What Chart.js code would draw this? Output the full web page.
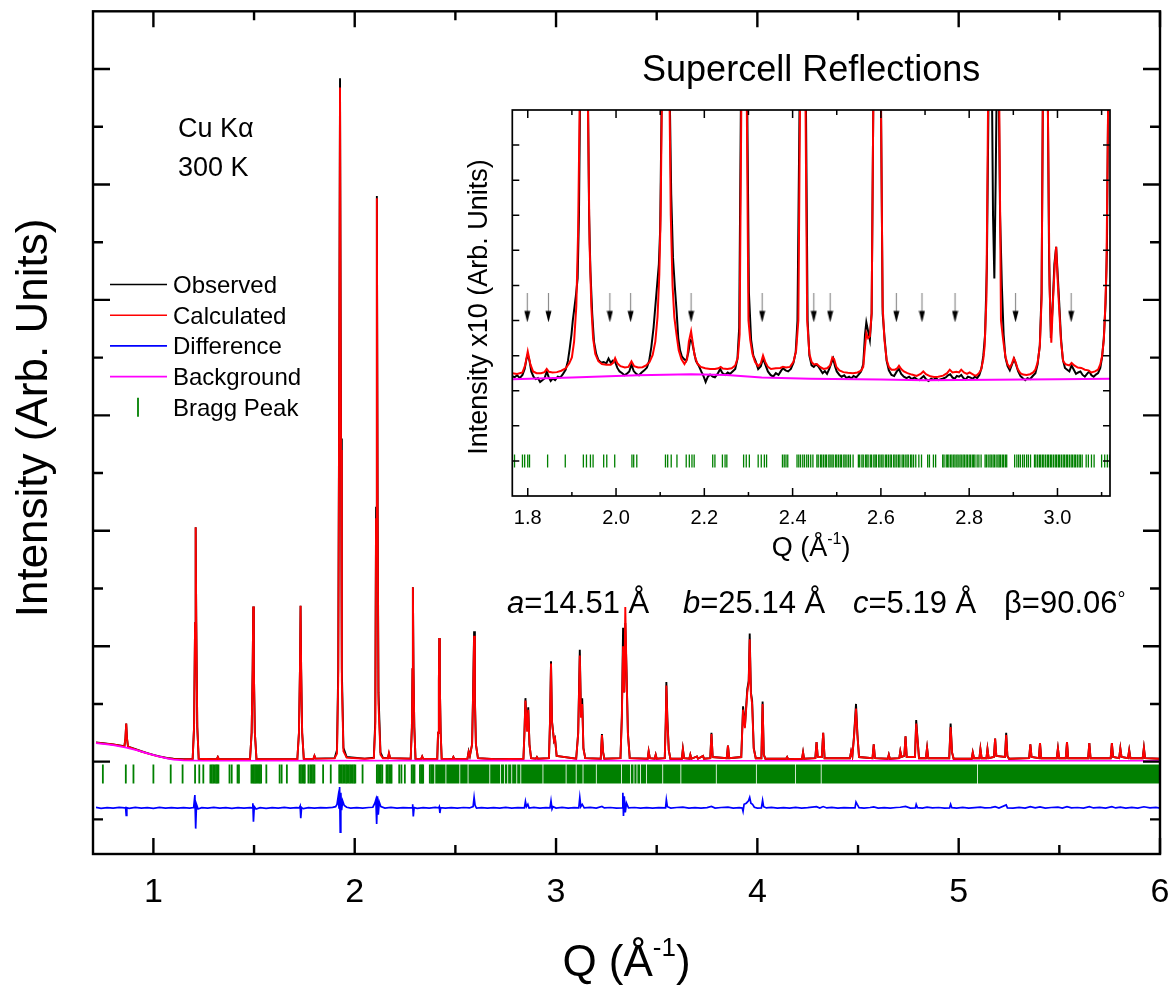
<!DOCTYPE html>
<html>
<head>
<meta charset="utf-8">
<title>Rietveld refinement – supercell</title>
<script src="https://cdn.jsdelivr.net/npm/chart.js@4.4.1/dist/chart.umd.min.js"></script>
<style>
  html, body { margin: 0; padding: 0; background: #fff; }
  #wrap { position: relative; width: 1176px; height: 994px; }
  #mainChart { position: absolute; left: 0; top: 0; }
  #insetChart { position: absolute; left: 440px; top: 30px; }
</style>
</head>
<body>
<div id="wrap">
  <canvas id="mainChart" width="1176" height="994"></canvas>
  <canvas id="insetChart" width="700" height="540"></canvas>
</div>
<script>
const FONT = '"Liberation Sans", Arial, Helvetica, sans-serif';

// ---- full pattern: [Q (1/Å), intensity] ----
const observed = [
  [0.715,0.166],[0.760,0.158],[0.800,0.149],[0.840,0.138],[0.856,0.134],[0.861,0.200],[0.865,0.330],[0.869,0.200],[0.874,0.130],
  [0.900,0.115],[0.940,0.090],[0.970,0.074],[1.000,0.058],[1.030,0.046],[1.067,0.032],[1.100,0.025],[1.150,0.021],
  [1.195,0.024],[1.202,0.300],[1.207,1.200],[1.210,2.030],[1.213,1.200],[1.218,0.300],[1.225,0.025],
  [1.300,0.021],[1.315,0.021],[1.320,0.040],[1.325,0.021],
  [1.480,0.022],[1.488,0.250],[1.493,0.800],[1.496,1.345],[1.499,0.800],[1.504,0.250],[1.512,0.022],
  [1.715,0.022],[1.723,0.250],[1.728,0.800],[1.731,1.350],[1.734,0.800],[1.739,0.250],[1.747,0.024],
  [1.795,0.025],[1.800,0.050],[1.805,0.026],
  [1.900,0.030],[1.912,0.100],[1.918,0.800],[1.922,2.800],[1.927,5.920],[1.932,2.800],[1.936,0.800],[1.944,0.120],[1.960,0.040],
  [2.050,0.026],[2.095,0.035],[2.102,0.350],[2.106,2.200],[2.110,4.900],[2.114,2.200],[2.118,0.600],[2.128,0.080],[2.140,0.035],
  [2.165,0.030],[2.170,0.070],[2.176,0.030],
  [2.278,0.025],[2.284,0.300],[2.287,0.800],[2.289,1.510],[2.292,0.800],[2.296,0.300],[2.302,0.025],
  [2.330,0.024],[2.335,0.045],[2.340,0.024],
  [2.410,0.024],[2.414,0.250],[2.418,0.700],[2.420,1.070],[2.423,0.650],[2.427,0.250],[2.432,0.025],
  [2.485,0.022],[2.490,0.040],[2.495,0.022],
  [2.560,0.025],[2.566,0.090],[2.572,0.050],[2.583,0.150],[2.588,0.600],[2.593,1.130],[2.597,0.550],[2.602,0.150],[2.612,0.030],
  [2.700,0.021],[2.838,0.025],[2.843,0.250],[2.848,0.550],[2.856,0.280],[2.862,0.470],[2.868,0.150],[2.876,0.030],
  [2.900,0.025],[2.905,0.040],[2.910,0.025],
  [2.965,0.030],[2.970,0.350],[2.975,0.870],[2.980,0.350],[2.990,0.180],[2.995,0.200],[3.003,0.050],
  [3.100,0.025],[3.110,0.250],[3.118,0.970],[3.124,0.400],[3.130,0.550],[3.136,0.120],[3.145,0.030],
  [3.222,0.025],[3.228,0.240],[3.234,0.080],[3.240,0.025],
  [3.320,0.030],[3.327,0.400],[3.333,1.160],[3.339,0.600],[3.344,1.200],[3.350,0.800],[3.357,0.250],[3.366,0.030],
  [3.455,0.025],[3.460,0.090],[3.466,0.030],[3.490,0.025],[3.495,0.060],[3.500,0.025],
  [3.540,0.030],[3.545,0.350],[3.548,0.690],[3.553,0.380],[3.560,0.100],[3.568,0.025],
  [3.625,0.025],[3.630,0.110],[3.636,0.030],[3.662,0.025],[3.667,0.060],[3.672,0.025],[3.700,0.045],[3.705,0.025],[3.730,0.050],[3.735,0.025],
  [3.766,0.030],[3.772,0.250],[3.778,0.040],[3.848,0.030],[3.854,0.140],[3.860,0.030],
  [3.920,0.040],[3.929,0.480],[3.938,0.300],[3.950,0.630],[3.957,0.700],[3.962,1.110],[3.968,0.600],[3.974,0.530],[3.982,0.120],[3.992,0.030],
  [4.020,0.030],[4.026,0.520],[4.032,0.060],[4.040,0.025],
  [4.143,0.025],[4.148,0.040],[4.153,0.022],[4.222,0.025],[4.227,0.080],[4.232,0.025],
  [4.288,0.030],[4.294,0.170],[4.300,0.040],[4.320,0.040],[4.327,0.250],[4.334,0.030],
  [4.460,0.030],[4.466,0.090],[4.472,0.050],[4.480,0.220],[4.490,0.500],[4.497,0.240],[4.505,0.040],
  [4.572,0.030],[4.578,0.150],[4.584,0.030],[4.648,0.025],[4.653,0.060],[4.658,0.025],
  [4.705,0.030],[4.710,0.090],[4.716,0.040],[4.730,0.050],[4.736,0.220],[4.742,0.040],
  [4.783,0.040],[4.789,0.360],[4.796,0.190],[4.803,0.030],[4.837,0.030],[4.843,0.120],[4.849,0.030],
  [4.953,0.030],[4.960,0.330],[4.967,0.080],[4.975,0.025],
  [5.065,0.025],[5.070,0.080],[5.076,0.030],[5.103,0.030],[5.108,0.110],[5.114,0.030],[5.138,0.030],[5.143,0.110],[5.149,0.030],
  [5.175,0.040],[5.181,0.200],[5.187,0.050],[5.230,0.040],[5.236,0.250],[5.242,0.050],[5.250,0.025],
  [5.350,0.030],[5.356,0.150],[5.362,0.040],[5.398,0.030],[5.404,0.160],[5.410,0.030],
  [5.487,0.030],[5.493,0.115],[5.499,0.030],[5.532,0.030],[5.538,0.170],[5.544,0.030],
  [5.643,0.030],[5.649,0.160],[5.655,0.030],
  [5.755,0.030],[5.761,0.160],[5.767,0.040],[5.797,0.030],[5.803,0.115],[5.809,0.040],[5.841,0.030],[5.847,0.100],[5.853,0.030],
  [5.914,0.030],[5.920,0.120],[5.926,0.030],[6.000,0.025]
];

const calculated = [
  [0.715,0.164],[0.760,0.156],[0.800,0.148],[0.840,0.137],[0.856,0.134],[0.861,0.200],[0.865,0.330],[0.869,0.200],[0.874,0.130],
  [0.900,0.113],[0.940,0.088],[0.970,0.072],[1.000,0.056],[1.030,0.044],[1.067,0.031],[1.100,0.024],[1.150,0.020],
  [1.195,0.024],[1.202,0.300],[1.207,1.200],[1.210,2.030],[1.213,1.200],[1.218,0.300],[1.225,0.025],
  [1.300,0.021],[1.315,0.021],[1.320,0.040],[1.325,0.021],
  [1.480,0.022],[1.488,0.250],[1.493,0.800],[1.496,1.345],[1.499,0.800],[1.504,0.250],[1.512,0.022],
  [1.715,0.022],[1.723,0.250],[1.728,0.800],[1.731,1.350],[1.734,0.800],[1.739,0.250],[1.747,0.024],
  [1.795,0.025],[1.800,0.050],[1.805,0.026],
  [1.900,0.028],[1.912,0.070],[1.918,0.700],[1.922,2.700],[1.927,5.840],[1.932,2.700],[1.936,0.700],[1.944,0.090],[1.960,0.035],
  [2.050,0.025],[2.095,0.030],[2.102,0.300],[2.106,2.100],[2.110,4.880],[2.114,2.100],[2.118,0.500],[2.128,0.060],[2.140,0.030],
  [2.165,0.030],[2.170,0.075],[2.176,0.030],
  [2.278,0.025],[2.284,0.300],[2.287,0.800],[2.289,1.510],[2.292,0.800],[2.296,0.300],[2.302,0.025],
  [2.330,0.024],[2.335,0.045],[2.340,0.024],
  [2.410,0.024],[2.414,0.250],[2.418,0.700],[2.420,1.070],[2.423,0.650],[2.427,0.250],[2.432,0.025],
  [2.485,0.022],[2.490,0.040],[2.495,0.022],
  [2.560,0.025],[2.566,0.085],[2.572,0.050],[2.583,0.150],[2.588,0.580],[2.593,1.090],[2.597,0.530],[2.602,0.150],[2.612,0.030],
  [2.700,0.021],[2.838,0.025],[2.843,0.240],[2.848,0.530],[2.856,0.260],[2.862,0.450],[2.868,0.150],[2.876,0.030],
  [2.900,0.025],[2.905,0.040],[2.910,0.025],
  [2.965,0.030],[2.970,0.340],[2.975,0.850],[2.980,0.340],[2.990,0.180],[2.995,0.200],[3.003,0.050],
  [3.100,0.025],[3.110,0.240],[3.118,0.920],[3.124,0.380],[3.130,0.500],[3.136,0.110],[3.145,0.030],
  [3.222,0.025],[3.228,0.230],[3.234,0.080],[3.240,0.025],
  [3.320,0.030],[3.327,0.380],[3.333,1.000],[3.339,0.600],[3.344,1.340],[3.350,0.780],[3.357,0.240],[3.366,0.030],
  [3.455,0.025],[3.460,0.090],[3.466,0.030],[3.490,0.025],[3.495,0.060],[3.500,0.025],
  [3.540,0.030],[3.545,0.330],[3.548,0.660],[3.553,0.350],[3.560,0.100],[3.568,0.025],
  [3.625,0.025],[3.630,0.110],[3.636,0.030],[3.662,0.025],[3.667,0.060],[3.672,0.025],[3.700,0.045],[3.705,0.025],[3.730,0.050],[3.735,0.025],
  [3.766,0.030],[3.772,0.240],[3.778,0.040],[3.848,0.030],[3.854,0.140],[3.860,0.030],
  [3.920,0.040],[3.929,0.450],[3.938,0.290],[3.950,0.600],[3.957,0.680],[3.962,1.060],[3.968,0.580],[3.974,0.500],[3.982,0.110],[3.992,0.030],
  [4.020,0.030],[4.026,0.500],[4.032,0.060],[4.040,0.025],
  [4.143,0.025],[4.148,0.040],[4.153,0.022],[4.222,0.025],[4.227,0.080],[4.232,0.025],
  [4.288,0.030],[4.294,0.170],[4.300,0.040],[4.320,0.040],[4.327,0.250],[4.334,0.030],
  [4.460,0.030],[4.466,0.090],[4.472,0.050],[4.480,0.210],[4.490,0.460],[4.497,0.230],[4.505,0.040],
  [4.572,0.030],[4.578,0.150],[4.584,0.030],[4.648,0.025],[4.653,0.060],[4.658,0.025],
  [4.705,0.030],[4.710,0.090],[4.716,0.040],[4.730,0.050],[4.736,0.220],[4.742,0.040],
  [4.783,0.040],[4.789,0.330],[4.796,0.180],[4.803,0.030],[4.837,0.030],[4.843,0.120],[4.849,0.030],
  [4.953,0.030],[4.960,0.300],[4.967,0.080],[4.975,0.025],
  [5.065,0.025],[5.070,0.080],[5.076,0.030],[5.103,0.030],[5.108,0.110],[5.114,0.030],[5.138,0.030],[5.143,0.110],[5.149,0.030],
  [5.175,0.040],[5.181,0.200],[5.187,0.050],[5.230,0.040],[5.236,0.230],[5.242,0.050],[5.250,0.025],
  [5.350,0.030],[5.356,0.150],[5.362,0.040],[5.398,0.030],[5.404,0.160],[5.410,0.030],
  [5.487,0.030],[5.493,0.115],[5.499,0.030],[5.532,0.030],[5.538,0.170],[5.544,0.030],
  [5.643,0.030],[5.649,0.160],[5.655,0.030],
  [5.755,0.030],[5.761,0.160],[5.767,0.040],[5.797,0.030],[5.803,0.115],[5.809,0.040],[5.841,0.030],[5.847,0.100],[5.853,0.030],
  [5.914,0.030],[5.920,0.120],[5.926,0.030],[6.000,0.025]
];

// observed minus calculated, shifted down to -0.4
const difference = [
  [0.715,-0.396],[0.740,-0.404],[0.770,-0.398],[0.800,-0.403],[0.830,-0.397],[0.858,-0.401],[0.862,-0.398],[0.865,-0.465],[0.868,-0.400],
  [0.880,-0.405],[0.910,-0.397],[0.940,-0.402],[0.970,-0.399],[1.000,-0.404],[1.030,-0.397],[1.060,-0.402],[1.090,-0.398],[1.120,-0.403],
  [1.150,-0.399],[1.180,-0.402],[1.200,-0.398],[1.206,-0.290],[1.210,-0.580],[1.214,-0.370],[1.222,-0.410],[1.240,-0.398],[1.270,-0.403],
  [1.300,-0.397],[1.330,-0.402],[1.360,-0.399],[1.390,-0.404],[1.420,-0.398],[1.450,-0.402],[1.480,-0.399],[1.490,-0.401],[1.494,-0.360],
  [1.497,-0.520],[1.501,-0.390],[1.510,-0.410],[1.530,-0.399],[1.560,-0.404],[1.590,-0.398],[1.620,-0.402],[1.650,-0.397],[1.680,-0.403],
  [1.710,-0.399],[1.725,-0.401],[1.729,-0.385],[1.732,-0.490],[1.736,-0.398],[1.745,-0.407],[1.770,-0.399],[1.800,-0.403],[1.830,-0.398],
  [1.860,-0.401],[1.890,-0.396],[1.905,-0.390],[1.912,-0.370],[1.918,-0.300],[1.922,-0.400],[1.925,-0.220],[1.928,-0.610],[1.931,-0.270],
  [1.935,-0.420],[1.940,-0.340],[1.948,-0.380],[1.960,-0.395],[1.980,-0.402],[2.010,-0.398],[2.040,-0.403],[2.070,-0.397],[2.090,-0.395],
  [2.100,-0.360],[2.105,-0.330],[2.109,-0.540],[2.113,-0.300],[2.117,-0.460],[2.122,-0.350],[2.130,-0.390],[2.150,-0.402],[2.180,-0.397],
  [2.210,-0.403],[2.240,-0.398],[2.270,-0.401],[2.285,-0.400],[2.288,-0.370],[2.291,-0.475],[2.295,-0.398],[2.310,-0.404],[2.340,-0.398],
  [2.370,-0.402],[2.400,-0.397],[2.417,-0.400],[2.420,-0.390],[2.423,-0.445],[2.427,-0.399],[2.450,-0.403],[2.480,-0.398],[2.510,-0.402],
  [2.540,-0.397],[2.570,-0.401],[2.588,-0.390],[2.593,-0.310],[2.598,-0.380],[2.605,-0.402],[2.630,-0.398],[2.660,-0.403],[2.690,-0.398],
  [2.720,-0.402],[2.750,-0.397],[2.780,-0.402],[2.810,-0.398],[2.843,-0.401],[2.848,-0.345],[2.853,-0.390],[2.860,-0.370],[2.866,-0.402],
  [2.890,-0.397],[2.920,-0.402],[2.950,-0.398],[2.970,-0.401],[2.975,-0.340],[2.980,-0.410],[2.985,-0.390],[3.000,-0.402],[3.030,-0.397],
  [3.060,-0.403],[3.090,-0.398],[3.113,-0.400],[3.118,-0.310],[3.123,-0.390],[3.130,-0.370],[3.140,-0.401],[3.170,-0.397],[3.200,-0.403],
  [3.228,-0.388],[3.240,-0.401],[3.270,-0.397],[3.300,-0.402],[3.328,-0.400],[3.332,-0.270],[3.335,-0.470],[3.339,-0.300],[3.344,-0.440],
  [3.350,-0.360],[3.360,-0.401],[3.390,-0.397],[3.420,-0.402],[3.450,-0.398],[3.480,-0.403],[3.510,-0.398],[3.544,-0.401],[3.548,-0.330],
  [3.553,-0.390],[3.570,-0.402],[3.600,-0.397],[3.630,-0.394],[3.660,-0.402],[3.690,-0.398],[3.720,-0.403],[3.750,-0.398],[3.772,-0.388],
  [3.790,-0.402],[3.820,-0.397],[3.854,-0.394],[3.880,-0.402],[3.910,-0.398],[3.925,-0.401],[3.929,-0.430],[3.934,-0.370],[3.945,-0.360],
  [3.956,-0.340],[3.962,-0.310],[3.968,-0.360],[3.976,-0.370],[3.985,-0.395],[4.000,-0.402],[4.020,-0.400],[4.026,-0.335],[4.031,-0.390],
  [4.045,-0.401],[4.070,-0.397],[4.100,-0.403],[4.130,-0.398],[4.160,-0.402],[4.190,-0.397],[4.220,-0.402],[4.250,-0.398],[4.294,-0.390],
  [4.310,-0.402],[4.327,-0.389],[4.345,-0.401],[4.370,-0.397],[4.400,-0.403],[4.430,-0.398],[4.460,-0.401],[4.485,-0.400],[4.490,-0.350],
  [4.496,-0.370],[4.505,-0.398],[4.530,-0.403],[4.560,-0.397],[4.578,-0.392],[4.600,-0.402],[4.630,-0.398],[4.660,-0.403],[4.690,-0.397],
  [4.710,-0.395],[4.736,-0.388],[4.760,-0.402],[4.785,-0.400],[4.789,-0.370],[4.795,-0.398],[4.820,-0.403],[4.843,-0.394],[4.870,-0.401],
  [4.900,-0.397],[4.930,-0.402],[4.955,-0.400],[4.960,-0.370],[4.966,-0.399],[4.990,-0.403],[5.020,-0.397],[5.050,-0.402],[5.080,-0.398],
  [5.108,-0.394],[5.130,-0.401],[5.160,-0.398],[5.181,-0.390],[5.200,-0.402],[5.236,-0.375],[5.242,-0.400],[5.270,-0.403],[5.300,-0.397],
  [5.330,-0.402],[5.356,-0.390],[5.380,-0.401],[5.404,-0.392],[5.430,-0.402],[5.460,-0.397],[5.493,-0.394],[5.515,-0.402],[5.538,-0.390],
  [5.560,-0.401],[5.590,-0.397],[5.620,-0.402],[5.649,-0.390],[5.670,-0.401],[5.700,-0.397],[5.730,-0.403],[5.761,-0.390],[5.780,-0.401],
  [5.803,-0.394],[5.830,-0.402],[5.860,-0.397],[5.890,-0.402],[5.920,-0.391],[5.950,-0.401],[5.980,-0.397],[6.000,-0.402]
];

const background = [
  [0.715,0.160],[0.760,0.152],[0.800,0.143],[0.865,0.122],[0.920,0.098],[0.970,0.072],[1.020,0.048],
  [1.067,0.028],[1.100,0.018],[1.150,0.011],[1.250,0.008],[2.500,0.009],[4.000,0.008],[6.000,0.008]
];

// reflection positions (Q); below 2.4 resolved, above that as merged ranges
const braggTicks = [
  0.749, 0.863, 0.901, 1.000, 1.086, 1.145, 1.207, 1.228, 1.248, 1.283, 1.290, 1.297, 1.304, 1.311, 1.317, 1.323,
  1.378, 1.389, 1.418, 1.425, 1.487, 1.493, 1.499, 1.505, 1.511, 1.517, 1.523, 1.529, 1.535, 1.561, 1.627, 1.637,
  1.663, 1.726, 1.733, 1.740, 1.747, 1.752, 1.770, 1.779, 1.786, 1.793, 1.800, 1.843, 1.881, 1.923, 1.929, 1.936,
  1.943, 1.950, 1.957, 1.963, 1.970, 1.977, 1.984, 1.990, 1.997, 2.003, 2.039, 2.110, 2.116, 2.123, 2.130, 2.137,
  2.158, 2.164, 2.171, 2.178, 2.183, 2.221, 2.232, 2.249, 2.283, 2.290, 2.297, 2.324, 2.330, 2.336, 2.340, 2.373,
  2.380, 2.386, 2.391
];
const braggBands = [
  [2.400, 2.451], [2.455, 2.520], [2.524, 2.561], [2.565, 2.669], [2.673, 2.722], [2.726, 2.742], [2.746, 2.758],
  [2.762, 2.778], [2.782, 2.803], [2.807, 2.823], [2.827, 2.933], [2.937, 3.048], [3.052, 3.098], [3.102, 3.132],
  [3.136, 3.198], [3.202, 3.323], [3.327, 3.368], [3.372, 3.385], [3.389, 3.400], [3.404, 3.418], [3.422, 3.447],
  [3.451, 3.528], [3.532, 3.618], [3.622, 3.794], [3.798, 3.993], [3.997, 4.188], [4.192, 4.315], [4.319, 5.092],
  [5.096, 6.000]
];

// ---- inset: intensity x10 ----
const insetObserved = [
  [1.765,0.42],[1.770,0.38],[1.776,0.44],[1.782,0.36],[1.788,0.45],[1.793,0.62],[1.797,0.90],[1.800,1.03],[1.804,0.85],[1.808,0.55],
  [1.813,0.40],[1.818,0.33],[1.823,0.36],[1.828,0.25],[1.833,0.30],[1.838,0.35],[1.843,0.55],[1.847,0.40],[1.852,0.28],[1.857,0.35],
  [1.862,0.30],[1.868,0.40],[1.874,0.38],[1.880,0.48],[1.886,0.60],[1.891,0.85],[1.895,1.20],[1.899,1.60],[1.902,2.00],[1.906,2.40],
  [1.909,2.70],[1.913,3.20],[1.916,5.00],[1.919,9.0],[1.927,118],[1.936,9.0],[1.939,5.0],[1.942,3.40],[1.946,2.20],[1.950,1.40],
  [1.955,1.05],[1.960,0.88],[1.966,0.80],[1.972,0.82],[1.978,0.78],[1.983,0.92],[1.988,0.80],[1.993,0.86],[1.998,0.82],[2.003,0.65],
  [2.008,0.55],[2.014,0.50],[2.019,0.44],[2.024,0.48],[2.030,0.55],[2.035,0.75],[2.040,0.56],[2.046,0.48],[2.052,0.44],[2.058,0.52],
  [2.064,0.58],[2.070,0.66],[2.075,0.85],[2.080,1.25],[2.085,1.80],[2.089,2.40],[2.093,3.00],[2.097,3.60],[2.100,4.60],[2.104,9.0],
  [2.112,98],[2.121,9.0],[2.125,5.60],[2.129,3.80],[2.133,3.00],[2.137,2.30],[2.141,1.50],[2.145,1.15],[2.149,0.98],[2.154,0.90],
  [2.159,0.85],[2.164,1.10],[2.168,1.45],[2.172,1.40],[2.176,1.15],[2.181,0.85],[2.187,0.72],[2.193,0.55],[2.198,0.42],[2.203,0.25],
  [2.208,0.40],[2.213,0.46],[2.219,0.40],[2.224,0.38],[2.230,0.48],[2.236,0.62],[2.241,0.50],[2.247,0.45],[2.253,0.52],[2.258,0.48],
  [2.264,0.55],[2.270,0.62],[2.275,0.90],[2.279,1.80],[2.283,8.5],[2.290,30],[2.297,8.5],[2.301,2.80],[2.306,1.45],[2.311,1.00],
  [2.316,0.85],[2.322,0.62],[2.328,0.70],[2.333,0.92],[2.338,0.75],[2.344,0.55],[2.350,0.45],[2.356,0.40],[2.362,0.50],[2.368,0.45],
  [2.373,0.55],[2.378,0.64],[2.384,0.58],[2.390,0.55],[2.396,0.62],[2.402,0.80],[2.407,1.10],[2.411,2.00],[2.416,8.5],[2.423,21],
  [2.430,8.5],[2.434,2.00],[2.438,1.00],[2.443,0.72],[2.448,0.68],[2.453,0.75],[2.458,0.70],[2.463,0.60],[2.468,0.50],[2.473,0.56],
  [2.478,0.48],[2.483,0.62],[2.488,0.80],[2.492,0.92],[2.496,0.70],[2.500,0.55],[2.506,0.45],[2.511,0.40],[2.517,0.44],[2.522,0.36],
  [2.528,0.40],[2.533,0.35],[2.538,0.42],[2.544,0.38],[2.549,0.45],[2.555,0.55],[2.560,0.75],[2.564,1.60],[2.567,1.95],[2.571,1.70],
  [2.575,1.45],[2.579,2.20],[2.583,8.5],[2.592,22],[2.600,8.5],[2.604,2.20],[2.608,1.55],[2.613,0.85],[2.618,0.58],[2.624,0.45],
  [2.630,0.42],[2.636,0.55],[2.641,0.62],[2.646,0.48],[2.652,0.40],[2.658,0.36],[2.664,0.40],[2.670,0.33],[2.676,0.38],[2.681,0.33],
  [2.687,0.30],[2.692,0.36],[2.697,0.42],[2.702,0.33],[2.708,0.28],[2.714,0.34],[2.719,0.31],[2.725,0.36],[2.730,0.30],[2.736,0.33],
  [2.741,0.35],[2.747,0.38],[2.752,0.44],[2.757,0.47],[2.762,0.38],[2.767,0.34],[2.772,0.42],[2.777,0.40],[2.782,0.45],[2.787,0.36],
  [2.792,0.32],[2.797,0.40],[2.802,0.38],[2.808,0.34],[2.813,0.40],[2.818,0.36],[2.823,0.45],[2.828,0.65],[2.832,1.00],[2.836,1.60],
  [2.840,3.50],[2.844,8.5],[2.850,11],[2.854,5.00],[2.857,3.20],[2.860,6.00],[2.863,9.4],[2.867,8.5],[2.870,5.00],[2.874,3.00],
  [2.878,1.60],[2.882,0.95],[2.887,0.70],[2.892,0.58],[2.897,0.75],[2.902,0.90],[2.906,0.75],[2.911,0.55],[2.916,0.42],[2.921,0.36],
  [2.927,0.30],[2.932,0.36],[2.938,0.33],[2.944,0.42],[2.950,0.50],[2.955,0.75],[2.960,1.30],[2.964,2.80],[2.967,8.5],[2.973,17],
  [2.978,8.5],[2.981,3.80],[2.985,1.50],[2.989,2.40],[2.993,3.60],[2.997,4.10],[3.001,3.20],[3.004,2.50],[3.008,1.50],[3.012,0.90],
  [3.017,0.65],[3.022,0.60],[3.027,0.55],[3.032,0.72],[3.037,0.60],[3.042,0.48],[3.047,0.52],[3.052,0.55],[3.057,0.45],[3.062,0.40],
  [3.067,0.48],[3.072,0.55],[3.077,0.44],[3.082,0.40],[3.087,0.46],[3.092,0.50],[3.097,0.65],[3.101,0.95],[3.105,1.50],[3.109,2.50],
  [3.112,4.00],[3.115,8.5],[3.119,19]
];

const insetCalculated = [
  [1.765,0.50],[1.776,0.48],[1.788,0.52],[1.794,0.72],[1.800,1.12],[1.806,0.75],[1.812,0.55],[1.820,0.50],[1.830,0.50],[1.838,0.53],
  [1.843,0.62],[1.848,0.54],[1.856,0.52],[1.866,0.53],[1.876,0.57],[1.886,0.64],[1.894,0.78],[1.900,0.95],[1.905,1.40],[1.910,2.40],
  [1.914,4.50],[1.918,8.5],[1.927,118],[1.936,8.5],[1.940,4.20],[1.944,2.40],[1.948,1.50],[1.953,1.05],[1.960,0.84],[1.968,0.76],
  [1.978,0.74],[1.988,0.74],[1.994,0.80],[1.998,0.93],[2.003,0.78],[2.010,0.70],[2.020,0.66],[2.028,0.68],[2.035,0.84],[2.041,0.70],
  [2.050,0.66],[2.060,0.67],[2.068,0.72],[2.076,0.82],[2.083,1.02],[2.089,1.40],[2.094,2.10],[2.098,3.30],[2.101,5.00],[2.104,8.5],
  [2.112,98],[2.121,8.5],[2.124,5.00],[2.128,3.00],[2.132,2.10],[2.137,1.60],[2.142,1.15],[2.148,0.90],[2.155,0.76],[2.161,0.90],
  [2.165,1.40],[2.170,1.69],[2.174,1.35],[2.178,1.00],[2.184,0.78],[2.192,0.68],[2.202,0.64],[2.213,0.62],[2.224,0.62],[2.232,0.64],
  [2.237,0.68],[2.242,0.63],[2.252,0.62],[2.262,0.64],[2.270,0.72],[2.276,0.95],[2.280,1.60],[2.284,8.5],[2.290,30],[2.296,8.5],
  [2.300,2.00],[2.304,1.45],[2.309,1.05],[2.315,0.82],[2.322,0.70],[2.328,0.78],[2.333,1.00],[2.338,0.82],[2.344,0.68],[2.351,0.62],
  [2.362,0.64],[2.372,0.65],[2.378,0.68],[2.385,0.66],[2.394,0.68],[2.402,0.82],[2.408,1.15],[2.413,2.00],[2.417,8.5],[2.423,21],
  [2.429,8.5],[2.433,2.00],[2.438,1.05],[2.443,0.82],[2.448,0.75],[2.455,0.76],[2.462,0.68],[2.470,0.62],[2.478,0.64],[2.485,0.72],
  [2.490,0.95],[2.494,0.90],[2.499,0.68],[2.506,0.58],[2.515,0.53],[2.525,0.51],[2.537,0.50],[2.547,0.52],[2.555,0.57],[2.560,0.68],
  [2.564,1.25],[2.567,1.64],[2.571,1.50],[2.575,1.55],[2.579,2.20],[2.583,8.5],[2.592,22],[2.600,8.5],[2.604,2.40],[2.608,1.45],
  [2.613,0.88],[2.618,0.68],[2.624,0.60],[2.632,0.60],[2.637,0.64],[2.641,0.71],[2.646,0.62],[2.652,0.55],[2.660,0.50],[2.670,0.46],
  [2.681,0.42],[2.690,0.48],[2.696,0.55],[2.702,0.47],[2.712,0.41],[2.720,0.39],[2.730,0.40],[2.741,0.43],[2.750,0.50],[2.756,0.60],
  [2.762,0.52],[2.771,0.54],[2.777,0.52],[2.782,0.60],[2.788,0.52],[2.795,0.48],[2.801,0.52],[2.810,0.45],[2.816,0.43],[2.822,0.50],
  [2.827,0.60],[2.832,0.90],[2.835,1.26],[2.839,2.60],[2.843,8.5],[2.849,11],[2.855,9.0],[2.863,9.4],[2.868,8.5],[2.872,2.00],
  [2.877,1.45],[2.882,0.98],[2.887,0.75],[2.892,0.66],[2.897,0.78],[2.901,0.93],[2.905,0.82],[2.910,0.62],[2.916,0.50],[2.922,0.46],
  [2.930,0.45],[2.938,0.47],[2.945,0.52],[2.950,0.60],[2.955,0.80],[2.960,1.26],[2.964,2.60],[2.967,8.5],[2.973,17],[2.978,8.5],
  [2.982,3.00],[2.986,1.37],[2.990,2.60],[2.994,3.60],[2.997,4.10],[3.001,3.00],[3.004,2.30],[3.008,1.40],[3.013,0.84],[3.018,0.76],
  [3.022,0.74],[3.027,0.72],[3.032,0.79],[3.038,0.72],[3.046,0.66],[3.054,0.65],[3.062,0.60],[3.070,0.58],[3.077,0.52],[3.085,0.55],
  [3.092,0.60],[3.097,0.75],[3.101,0.98],[3.105,1.45],[3.108,2.30],[3.111,3.50],[3.115,8.5],[3.119,19]
];

const insetBackground = [
  [1.765,0.33],[1.900,0.38],[2.050,0.44],[2.170,0.47],[2.250,0.45],[2.330,0.38],[2.440,0.34],
  [2.600,0.32],[2.700,0.30],[2.850,0.31],[3.000,0.33],[3.119,0.34]
];

const insetBragg = [
  1.770, 1.788, 1.793, 1.800, 1.804, 1.845, 1.885, 1.926, 1.933, 1.942, 1.948, 1.972, 1.979, 1.997, 2.036, 2.040,
  2.047, 2.112, 2.117, 2.125, 2.138, 2.159, 2.166, 2.172, 2.177, 2.219, 2.224, 2.241, 2.247, 2.251, 2.289, 2.295,
  2.302, 2.322, 2.329, 2.336, 2.341, 2.377, 2.381, 2.385, 2.389, 2.410, 2.414, 2.418, 2.423, 2.427, 2.432, 2.436,
  2.441, 2.446, 2.455, 2.458, 2.463, 2.466, 2.470, 2.474, 2.477, 2.482, 2.485, 2.489, 2.492, 2.497, 2.500, 2.504,
  2.508, 2.511, 2.516, 2.519, 2.523, 2.527, 2.531, 2.537, 2.549, 2.552, 2.557, 2.560, 2.565, 2.568, 2.571, 2.576,
  2.579, 2.584, 2.587, 2.590, 2.595, 2.598, 2.602, 2.605, 2.610, 2.613, 2.617, 2.621, 2.624, 2.629, 2.632, 2.636,
  2.640, 2.643, 2.648, 2.651, 2.655, 2.659, 2.662, 2.667, 2.670, 2.674, 2.679, 2.686, 2.692, 2.706, 2.710, 2.719,
  2.724, 2.740, 2.743, 2.748, 2.751, 2.754, 2.758, 2.761, 2.765, 2.768, 2.772, 2.775, 2.779, 2.782, 2.786, 2.789,
  2.793, 2.796, 2.800, 2.803, 2.807, 2.810, 2.813, 2.818, 2.822, 2.827, 2.836, 2.839, 2.843, 2.847, 2.850, 2.854,
  2.857, 2.861, 2.865, 2.868, 2.871, 2.875, 2.878, 2.882, 2.885, 2.903, 2.908, 2.912, 2.916, 2.921, 2.925, 2.930,
  2.934, 2.939, 2.948, 2.951, 2.955, 2.959, 2.962, 2.966, 2.969, 2.973, 2.977, 2.980, 2.984, 2.987, 2.991, 2.995,
  2.998, 3.002, 3.005, 3.009, 3.013, 3.016, 3.020, 3.023, 3.027, 3.031, 3.034, 3.038, 3.041, 3.045, 3.049, 3.052,
  3.056, 3.065, 3.070, 3.077, 3.083, 3.100, 3.107, 3.113, 3.118
];

// supercell reflections marked with arrows
const supercellQ = [1.799, 1.847, 1.986, 2.033, 2.170, 2.331, 2.448, 2.485, 2.635, 2.693, 2.768, 2.905, 3.031];

const xTicks = [1, 2, 3, 4, 5, 6];
const xMinor = [1.5, 2.5, 3.5, 4.5, 5.5];
const yTicks = [0, 1, 2, 3, 4, 5, 6];
const yMinor = [-0.5, 0.5, 1.5, 2.5, 3.5, 4.5, 5.5];
const insetXTicks = [1.8, 2.0, 2.2, 2.4, 2.6, 2.8, 3.0];
const insetXMinor = [1.9, 2.1, 2.3, 2.5, 2.7, 2.9, 3.1];
const insetYTicks = [-2, -1, 0, 1, 2, 3, 4, 5, 6, 7];
const legendLabels = ['Observed', 'Calculated', 'Difference', 'Background', 'Bragg Peak'];

const BRAGG_Y = -0.106;
const INSET_BRAGG_Y = -2.0;
const ARROW_Y = 2.36;

const pts = arr => arr.map(([x, y]) => ({ x, y }));

function lineSet(label, data, color, width, order) {
  return {
    label, data: pts(data), borderColor: color, borderWidth: width,
    pointRadius: 0, pointHoverRadius: 0, tension: 0, fill: false, order
  };
}

function tickSet(label, qs, y, radius, width, order) {
  return {
    label, data: qs.map(q => ({ x: q, y })), showLine: false,
    borderColor: '#008000', pointBorderColor: '#008000', pointBorderWidth: width,
    pointStyle: 'line', pointRotation: 90, pointRadius: radius, pointHoverRadius: radius, order
  };
}

// draw text made of runs [text, font, rise]
function drawRuns(ctx, runs, x, y, align) {
  let total = 0;
  runs.forEach(([t, f]) => { ctx.font = f; total += ctx.measureText(t).width; });
  let cx = align === 'center' ? x - total / 2 : x;
  ctx.textAlign = 'left';
  runs.forEach(([t, f, rise = 0]) => {
    ctx.font = f;
    ctx.fillText(t, cx, y - rise);
    cx += ctx.measureText(t).width;
  });
}

const mainDecor = {
  id: 'mainDecor',
  afterDraw(chart) {
    const { ctx, chartArea: a, scales: { x, y } } = chart;
    ctx.save();
    ctx.strokeStyle = '#000';
    ctx.fillStyle = '#000';
    ctx.lineWidth = 2.4;
    ctx.strokeRect(a.left, a.top, a.right - a.left, a.bottom - a.top);

    ctx.beginPath();
    const vTick = (v, len) => {
      const px = x.getPixelForValue(v);
      ctx.moveTo(px, a.bottom); ctx.lineTo(px, a.bottom - len);
      ctx.moveTo(px, a.top); ctx.lineTo(px, a.top + len);
    };
    const hTick = (v, len) => {
      const py = y.getPixelForValue(v);
      ctx.moveTo(a.left, py); ctx.lineTo(a.left + len, py);
      ctx.moveTo(a.right, py); ctx.lineTo(a.right - len, py);
    };
    xTicks.forEach(v => vTick(v, 16));
    xMinor.forEach(v => vTick(v, 9));
    yTicks.forEach(v => hTick(v, 17));
    yMinor.forEach(v => hTick(v, 10));
    ctx.stroke();

    ctx.textBaseline = 'alphabetic';
    ctx.font = `34px ${FONT}`;
    ctx.textAlign = 'center';
    xTicks.forEach(v => ctx.fillText(String(v), x.getPixelForValue(v), a.bottom + 48));

    drawRuns(ctx, [['Q (Å', `44px ${FONT}`], ['-1', `26px ${FONT}`, 20], [')', `44px ${FONT}`]],
      (a.left + a.right) / 2, 976, 'center');

    ctx.save();
    ctx.translate(47, 418);
    ctx.rotate(-Math.PI / 2);
    ctx.font = `44px ${FONT}`;
    ctx.textAlign = 'center';
    ctx.fillText('Intensity (Arb. Units)', 0, 0);
    ctx.restore();

    // source and temperature
    ctx.font = `27px ${FONT}`;
    ctx.textAlign = 'left';
    ctx.fillText('Cu Kα', 178, 137);
    ctx.fillText('300 K', 178, 176);

    // legend
    legendLabels.forEach((label, i) => {
      const ds = chart.data.datasets.find(d => d.label === label);
      const cy = 284.5 + i * 30.7;
      ctx.beginPath();
      ctx.strokeStyle = ds.borderColor;
      if (ds.pointStyle === 'line') {
        ctx.lineWidth = 1.8;
        ctx.moveTo(138, cy - 9.5); ctx.lineTo(138, cy + 9.5);
      } else {
        ctx.lineWidth = 1.6;
        ctx.moveTo(110, cy); ctx.lineTo(167, cy);
      }
      ctx.stroke();
      ctx.font = `24px ${FONT}`;
      ctx.fillText(label, 173, cy + 8.5);
    });

    // lattice parameters
    const up = `31px ${FONT}`, it = `italic 31px ${FONT}`;
    drawRuns(ctx, [['a', it], ['=14.51 Å', up]], 507, 613, 'left');
    drawRuns(ctx, [['b', it], ['=25.14 Å', up]], 683, 613, 'left');
    drawRuns(ctx, [['c', it], ['=5.19 Å', up]], 853, 613, 'left');
    drawRuns(ctx, [['β=90.06', up], ['°', `20px ${FONT}`, 7]], 1004, 613, 'left');
    ctx.restore();
  }
};

new Chart(document.getElementById('mainChart'), {
  type: 'line',
  data: {
    datasets: [
      lineSet('Background', background, '#ff00ff', 1.7, 0),
      lineSet('Calculated', calculated, '#ff0000', 1.9, 1),
      lineSet('Observed', observed, '#000000', 1.9, 2),
      lineSet('Difference', difference, '#0000ff', 1.7, 3),
      tickSet('Bragg Peak', braggTicks, BRAGG_Y, 9.5, 1.8, 4),
      {
        label: 'Bragg Peak ranges',
        data: braggBands.flatMap(([a, b]) => [{ x: a, y: BRAGG_Y }, { x: b, y: BRAGG_Y }, { x: b, y: null }]),
        borderColor: '#008000', borderWidth: 19, borderCapStyle: 'butt',
        pointRadius: 0, pointHoverRadius: 0, fill: false, spanGaps: false, order: 5
      }
    ]
  },
  options: {
    responsive: false, animation: false, devicePixelRatio: 1, events: [],
    layout: { padding: { left: 93, right: 16, top: 7.5, bottom: 140 } },
    scales: {
      x: { type: 'linear', min: 0.70, max: 6.0, display: false },
      y: { type: 'linear', min: -0.8, max: 6.5, display: false }
    },
    plugins: { legend: { display: false }, tooltip: { enabled: false } }
  },
  plugins: [mainDecor]
});

// arrow marker: grey shaft, black head
const arrowMark = document.createElement('canvas');
arrowMark.width = 7;
arrowMark.height = 29;
(() => {
  const c = arrowMark.getContext('2d');
  c.strokeStyle = '#8c8c8c';
  c.lineWidth = 1.2;
  c.beginPath(); c.moveTo(3.5, 0); c.lineTo(3.5, 19); c.stroke();
  c.fillStyle = '#000';
  c.beginPath(); c.moveTo(0.5, 17.5); c.lineTo(6.5, 17.5); c.lineTo(3.5, 29); c.closePath(); c.fill();
})();

const insetDecor = {
  id: 'insetDecor',
  afterDraw(chart) {
    const { ctx, chartArea: a, scales: { x, y } } = chart;
    ctx.save();
    ctx.strokeStyle = '#000';
    ctx.fillStyle = '#000';
    ctx.lineWidth = 1.7;
    ctx.strokeRect(a.left, a.top, a.right - a.left, a.bottom - a.top);

    ctx.lineWidth = 1.5;
    ctx.beginPath();
    const vTick = (v, lenB, lenT) => {
      const px = x.getPixelForValue(v);
      ctx.moveTo(px, a.bottom); ctx.lineTo(px, a.bottom - lenB);
      ctx.moveTo(px, a.top); ctx.lineTo(px, a.top + lenT);
    };
    insetXTicks.forEach(v => vTick(v, 8, 8));
    insetXMinor.forEach(v => vTick(v, 4, 5));
    insetYTicks.forEach(v => {
      const py = y.getPixelForValue(v);
      ctx.moveTo(a.left, py); ctx.lineTo(a.left + 7, py);
      ctx.moveTo(a.right, py); ctx.lineTo(a.right - 7, py);
    });
    ctx.stroke();

    ctx.textBaseline = 'alphabetic';
    ctx.font = `20px ${FONT}`;
    ctx.textAlign = 'center';
    insetXTicks.forEach(v => ctx.fillText(v.toFixed(1), x.getPixelForValue(v), a.bottom + 28));

    drawRuns(ctx, [['Q (Å', `27px ${FONT}`], ['-1', `16px ${FONT}`, 12], [')', `27px ${FONT}`]],
      (a.left + a.right) / 2, 526, 'center');

    ctx.font = `36px ${FONT}`;
    ctx.textAlign = 'center';
    ctx.fillText('Supercell Reflections', (a.left + a.right) / 2, 51);

    ctx.save();
    ctx.translate(47, 277);
    ctx.rotate(-Math.PI / 2);
    ctx.font = `27px ${FONT}`;
    ctx.textAlign = 'center';
    ctx.fillText('Intensity x10 (Arb. Units)', 0, 0);
    ctx.restore();
    ctx.restore();
  }
};

new Chart(document.getElementById('insetChart'), {
  type: 'line',
  data: {
    datasets: [
      lineSet('Background', insetBackground, '#ff00ff', 2, 0),
      lineSet('Calculated', insetCalculated, '#ff0000', 2, 1),
      lineSet('Observed', insetObserved, '#000000', 2, 2),
      tickSet('Bragg Peak', insetBragg, INSET_BRAGG_Y, 6.5, 1.3, 3),
      {
        label: 'Supercell',
        data: supercellQ.map(q => ({ x: q, y: ARROW_Y })),
        showLine: false, pointStyle: arrowMark, pointRadius: 5, pointHoverRadius: 5, order: 4
      }
    ]
  },
  options: {
    responsive: false, animation: false, devicePixelRatio: 1, events: [],
    layout: { padding: { left: 72.3, right: 30, top: 80, bottom: 74 } },
    scales: {
      x: { type: 'linear', min: 1.765, max: 3.119, display: false },
      y: { type: 'linear', min: -3, max: 8, display: false }
    },
    plugins: { legend: { display: false }, tooltip: { enabled: false } }
  },
  plugins: [insetDecor]
});
</script>
</body>
</html>
